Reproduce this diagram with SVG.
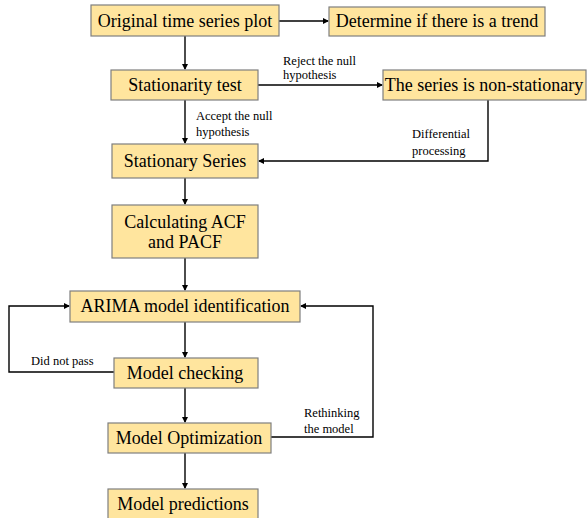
<svg xmlns="http://www.w3.org/2000/svg" width="587" height="518" viewBox="0 0 587 518">
<style>
.box{fill:#FFE59E;stroke:#7F7F7F;stroke-width:1.2}
.t{font-family:"Liberation Serif","Times New Roman",serif;font-size:18px;fill:#000;text-anchor:middle}
.l{font-family:"Liberation Serif","Times New Roman",serif;font-size:12.5px;fill:#000}
.c{fill:none;stroke:#000;stroke-width:1.4}
</style>
<defs>
<marker id="a" markerWidth="6" markerHeight="6" refX="5" refY="3" orient="auto" markerUnits="userSpaceOnUse">
<path d="M0,0 L6,3 L0,6 z" fill="#000"/>
</marker>
</defs>
<rect width="587" height="518" fill="#fff"/>
<g id="connectors">
<path class="c" d="M279,21 H328" marker-end="url(#a)"/>
<path class="c" d="M185,36 V69" marker-end="url(#a)"/>
<path class="c" d="M258,85 H382" marker-end="url(#a)"/>
<path class="c" d="M185,100 V143" marker-end="url(#a)"/>
<path class="c" d="M488,100 V161 H259" marker-end="url(#a)"/>
<path class="c" d="M185,178 V204" marker-end="url(#a)"/>
<path class="c" d="M185,258 V290" marker-end="url(#a)"/>
<path class="c" d="M185,322 V357" marker-end="url(#a)"/>
<path class="c" d="M114,372 H9 V306 H69" marker-end="url(#a)"/>
<path class="c" d="M185,388 V422" marker-end="url(#a)"/>
<path class="c" d="M271,437 H373 V306 H301" marker-end="url(#a)"/>
<path class="c" d="M185,453 V488" marker-end="url(#a)"/>
<text class="l" x="283" y="65">Reject the null</text>
<text class="l" x="283" y="79">hypothesis</text>
<text class="l" x="196" y="120">Accept the null</text>
<text class="l" x="196" y="136">hypothesis</text>
<text class="l" x="412" y="138">Differential</text>
<text class="l" x="412" y="155">processing</text>
<text class="l" x="31" y="365">Did not pass</text>
<text class="l" x="304" y="417">Rethinking</text>
<text class="l" x="304" y="433">the model</text>
</g>
<g id="n1"><rect class="box" x="91" y="5" width="188" height="31"/><text class="t" x="185" y="27">Original time series plot</text></g>
<g id="n2"><rect class="box" x="329" y="7" width="216" height="29"/><text class="t" x="437" y="27">Determine if there is a trend</text></g>
<g id="n3"><rect class="box" x="111" y="70" width="147" height="30"/><text class="t" x="185" y="91">Stationarity test</text></g>
<g id="n4"><rect class="box" x="383" y="70" width="203" height="30"/><text class="t" x="484" y="91">The series is non-stationary</text></g>
<g id="n5"><rect class="box" x="112" y="144" width="146" height="34"/><text class="t" x="185" y="167">Stationary Series</text></g>
<g id="n6"><rect class="box" x="112" y="205" width="146" height="53"/><text class="t" x="185" y="228">Calculating ACF</text><text class="t" x="185" y="248">and PACF</text></g>
<g id="n7"><rect class="box" x="70" y="291" width="230" height="31"/><text class="t" x="185" y="312">ARIMA model identification</text></g>
<g id="n8"><rect class="box" x="114" y="358" width="144" height="30"/><text class="t" x="185" y="379">Model checking</text></g>
<g id="n9"><rect class="box" x="108" y="423" width="163" height="30"/><text class="t" x="189" y="444">Model Optimization</text></g>
<g id="n10"><rect class="box" x="108" y="489" width="150" height="35"/><text class="t" x="183" y="510">Model predictions</text></g>
</svg>
